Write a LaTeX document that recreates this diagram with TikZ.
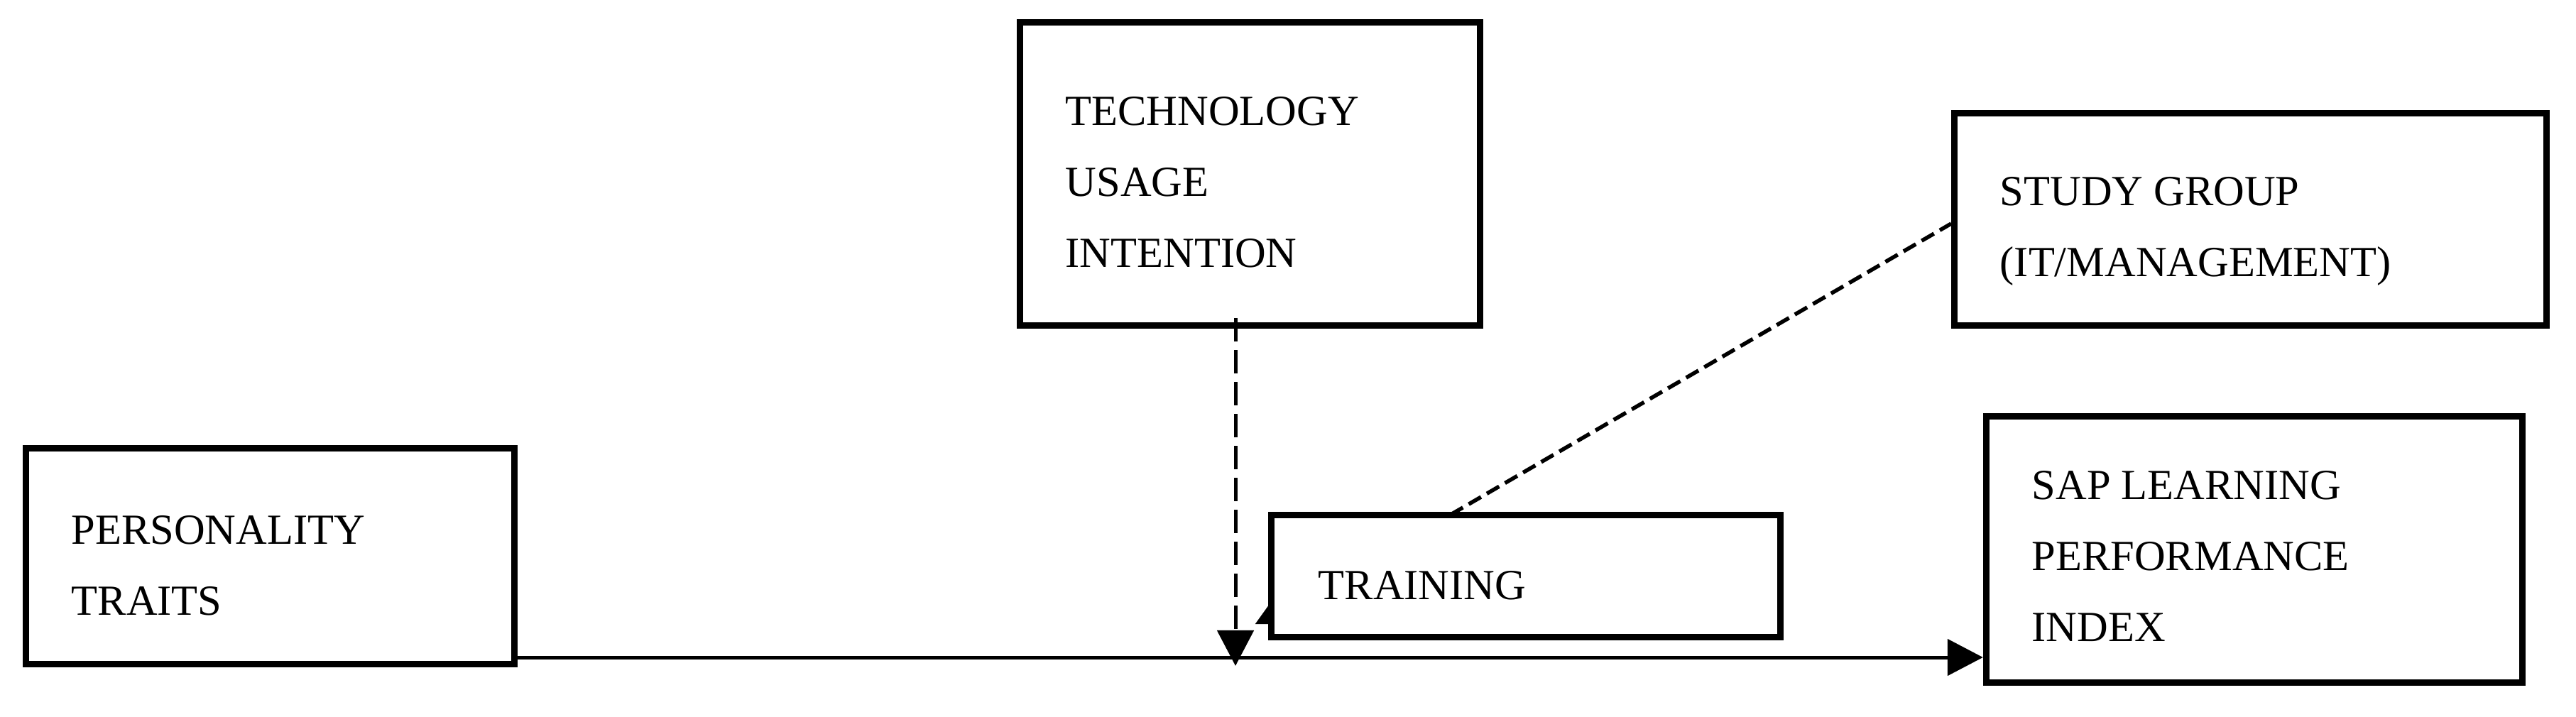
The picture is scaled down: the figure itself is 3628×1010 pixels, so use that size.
\documentclass[tikz,border=0pt]{standalone}
\usepackage{fontspec}
\setmainfont{Liberation Serif}
\usetikzlibrary{arrows.meta}
\begin{document}
\begin{tikzpicture}[x=0.01cm,y=-0.01cm,
  box/.style={draw, line width=0.09cm, fill=white, rectangle, inner sep=0pt},
  lbl/.style={anchor=base west, inner sep=0pt, font=\fontsize{17.2pt}{20pt}\selectfont},
  conn/.style={line width=0.05cm},
  bigtip/.style={-{Triangle[length=0.5cm,width=0.51cm]}},
  vdash/.style={conn, dash pattern=on 0.33cm off 0.12cm},
  ddash/.style={line width=0.055cm, dash pattern=on 0.2cm off 0.095cm}
]
\useasboundingbox (0,0) rectangle (3628,1010);

% boxes
\node[box, minimum width=6.88cm, minimum height=3.04cm] (pt) at (380.5,783.5) {};
\node[box, minimum width=6.48cm, minimum height=4.27cm] (tech) at (1760.5,245) {};
\node[box, minimum width=8.34cm, minimum height=2.99cm] (study) at (3169.5,309) {};
\node[box, minimum width=7.55cm, minimum height=3.75cm] (sap) at (3175,774) {};

% coordinates for connectors
\coordinate (lineref) at (1740,926);
\coordinate (vtop) at (1740,448);
\coordinate (vtip) at (1740,938);
\coordinate (sa1) at (1790,890);
\coordinate (sa2) at (1790,848);
\coordinate (dstart) at (2043,725);
\coordinate (dend) at (2748,315);

% connectors
\draw[conn, bigtip] (pt.east |- lineref) -- (sap.west |- lineref);
\draw[vdash, bigtip] (vtop) -- (vtip);
\draw[line width=0.5pt, -{Triangle[length=0.31cm,width=0.44cm]}] (sa1) -- (sa2);
\draw[ddash] (dstart) -- (dend);

% training box on top
\node[box, minimum width=7.17cm, minimum height=1.72cm] (train) at (2149,811.5) {};

% texts
\node[lbl] (pt1) at (100,766) {PERSONALITY};
\node[lbl] (pt2) at (100,866) {TRAITS};
\node[lbl] (te1) at (1500,177) {TECHNOLOGY};
\node[lbl] (te2) at (1500,277) {USAGE};
\node[lbl] (te3) at (1500,377) {INTENTION};
\node[lbl] (tr1) at (1856,844) {TRAINING};
\node[lbl] (sg1) at (2816,290) {STUDY GROUP};
\node[lbl] (sg2) at (2816,390) {(IT/MANAGEMENT)};
\node[lbl] (sp1) at (2861,703) {SAP LEARNING};
\node[lbl] (sp2) at (2861,803) {PERFORMANCE};
\node[lbl] (sp3) at (2861,903) {INDEX};
\end{tikzpicture}
\end{document}
